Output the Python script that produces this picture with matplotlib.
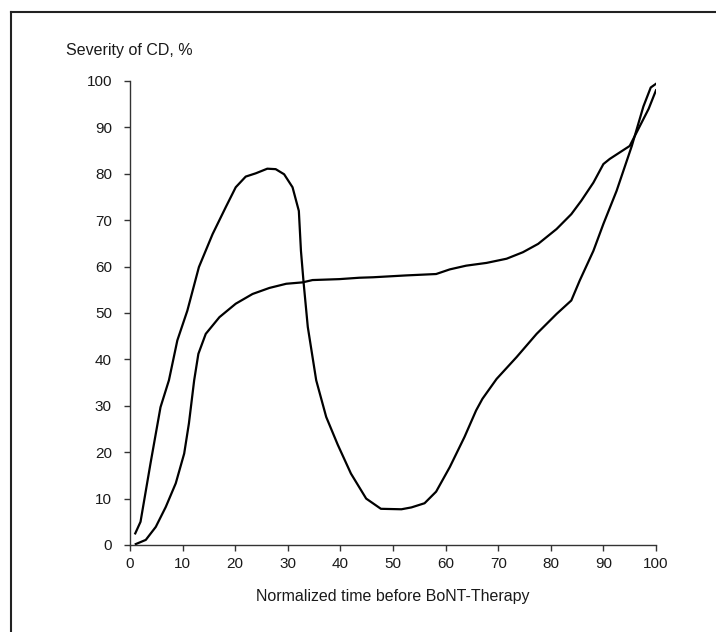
import matplotlib
matplotlib.use('Agg')
import matplotlib.pyplot as plt
from matplotlib.lines import Line2D

plt.rcParams['font.family'] = ['Liberation Sans', 'DejaVu Sans']

# curve with early peak (drops after ~30%)
peak_x = [1, 2, 3.9, 5.8, 7.4, 9, 10.9, 13.1, 15.7, 18.2, 20.1, 22, 23.9, 26.1, 27.7,
          29.3, 30.9, 32.1, 32.5, 33.0, 33.8, 35.4, 37.3, 39.5, 42, 44.9, 47.7, 51.6,
          53.5, 56, 58.2, 60.8, 63.6, 65.8, 67, 69.7, 73.5, 77.3, 81.1, 83.9, 85.5,
          88.1, 90, 92.5, 95.4, 97.6, 99, 100]
peak_y = [2.5, 5, 17.6, 29.7, 35.5, 44.1, 50.5, 59.9, 67, 72.8, 77.1, 79.4, 80.1, 81.1, 81,
          79.9, 77.1, 72, 63.4, 56.6, 47, 35.5, 27.6, 21.6, 15.4, 10, 7.8, 7.7,
          8.1, 9, 11.5, 16.8, 23.3, 29, 31.5, 35.8, 40.5, 45.5, 49.8, 52.7, 57,
          63.4, 69.2, 76.3, 86, 94.5, 98.6, 99.4]

# curve with plateau around 57-60%
plat_x = [1.1, 3, 4.9, 6.8, 8.7, 10.3, 11.2, 12.2, 13, 14.4, 17, 20.1, 23.3, 26.5, 29.7,
          32.8, 34.7, 39.8, 43.6, 46.2, 52.5, 58.2, 60.8, 63.9, 67.8, 71.6, 74.7, 77.6,
          81.1, 83.9, 85.8, 88.1, 90, 91.2, 95, 98.6, 100]
plat_y = [0.2, 1.1, 3.9, 8.2, 13.3, 19.7, 26.2, 35.5, 41.2, 45.5, 49.1, 52, 54.1, 55.4, 56.3,
          56.6, 57.1, 57.3, 57.6, 57.7, 58.1, 58.4, 59.4, 60.2, 60.8, 61.7, 63.1, 64.9,
          68.1, 71.3, 74.2, 78.1, 82.1, 83.2, 86, 94, 98]

x_ticks = list(range(0, 101, 10))
y_ticks = list(range(0, 101, 10))

fig = plt.figure(figsize=(7.16, 6.32), dpi=100)
ax = fig.add_axes([130 / 716, 87 / 632, 526 / 716, 464 / 632])

ax.plot(peak_x, peak_y, color='black', lw=1.6, solid_joinstyle='round')
ax.plot(plat_x, plat_y, color='black', lw=1.6, solid_joinstyle='round')

ax.set_xlim(0, 100)
ax.set_ylim(0, 100)
ax.set_xticks(x_ticks)
ax.set_yticks(y_ticks)
for s in ['top', 'right']:
	ax.spines[s].set_visible(False)
for s in ['left', 'bottom']:
	ax.spines[s].set_color('#333333')
	ax.spines[s].set_linewidth(1.0)
ax.tick_params(axis='x', direction='out', length=4, width=1, color='#333333',
               pad=5, labelsize=11, labelcolor='#1a1a1a')
ax.tick_params(axis='y', direction='out', length=4, width=1, color='#333333',
               pad=9, labelsize=11, labelcolor='#1a1a1a')

fig.text(66 / 716, 1 - 51 / 632, 'Severity of CD, %', ha='left', va='center',
         fontsize=11.5, color='#1a1a1a')
fig.text(393 / 716, 1 - 597 / 632, 'Normalized time before BoNT-Therapy', ha='center',
         va='center', fontsize=11.5, color='#1a1a1a')

# frame of the original figure (only top and left edges are visible)
fig.add_artist(Line2D([11 / 716, 1], [1 - 12 / 632, 1 - 12 / 632], transform=fig.transFigure,
                      color='#222222', lw=1.5))
fig.add_artist(Line2D([11 / 716, 11 / 716], [0, 1 - 12 / 632], transform=fig.transFigure,
                      color='#222222', lw=1.5))

fig.savefig('out.png', dpi=100)
